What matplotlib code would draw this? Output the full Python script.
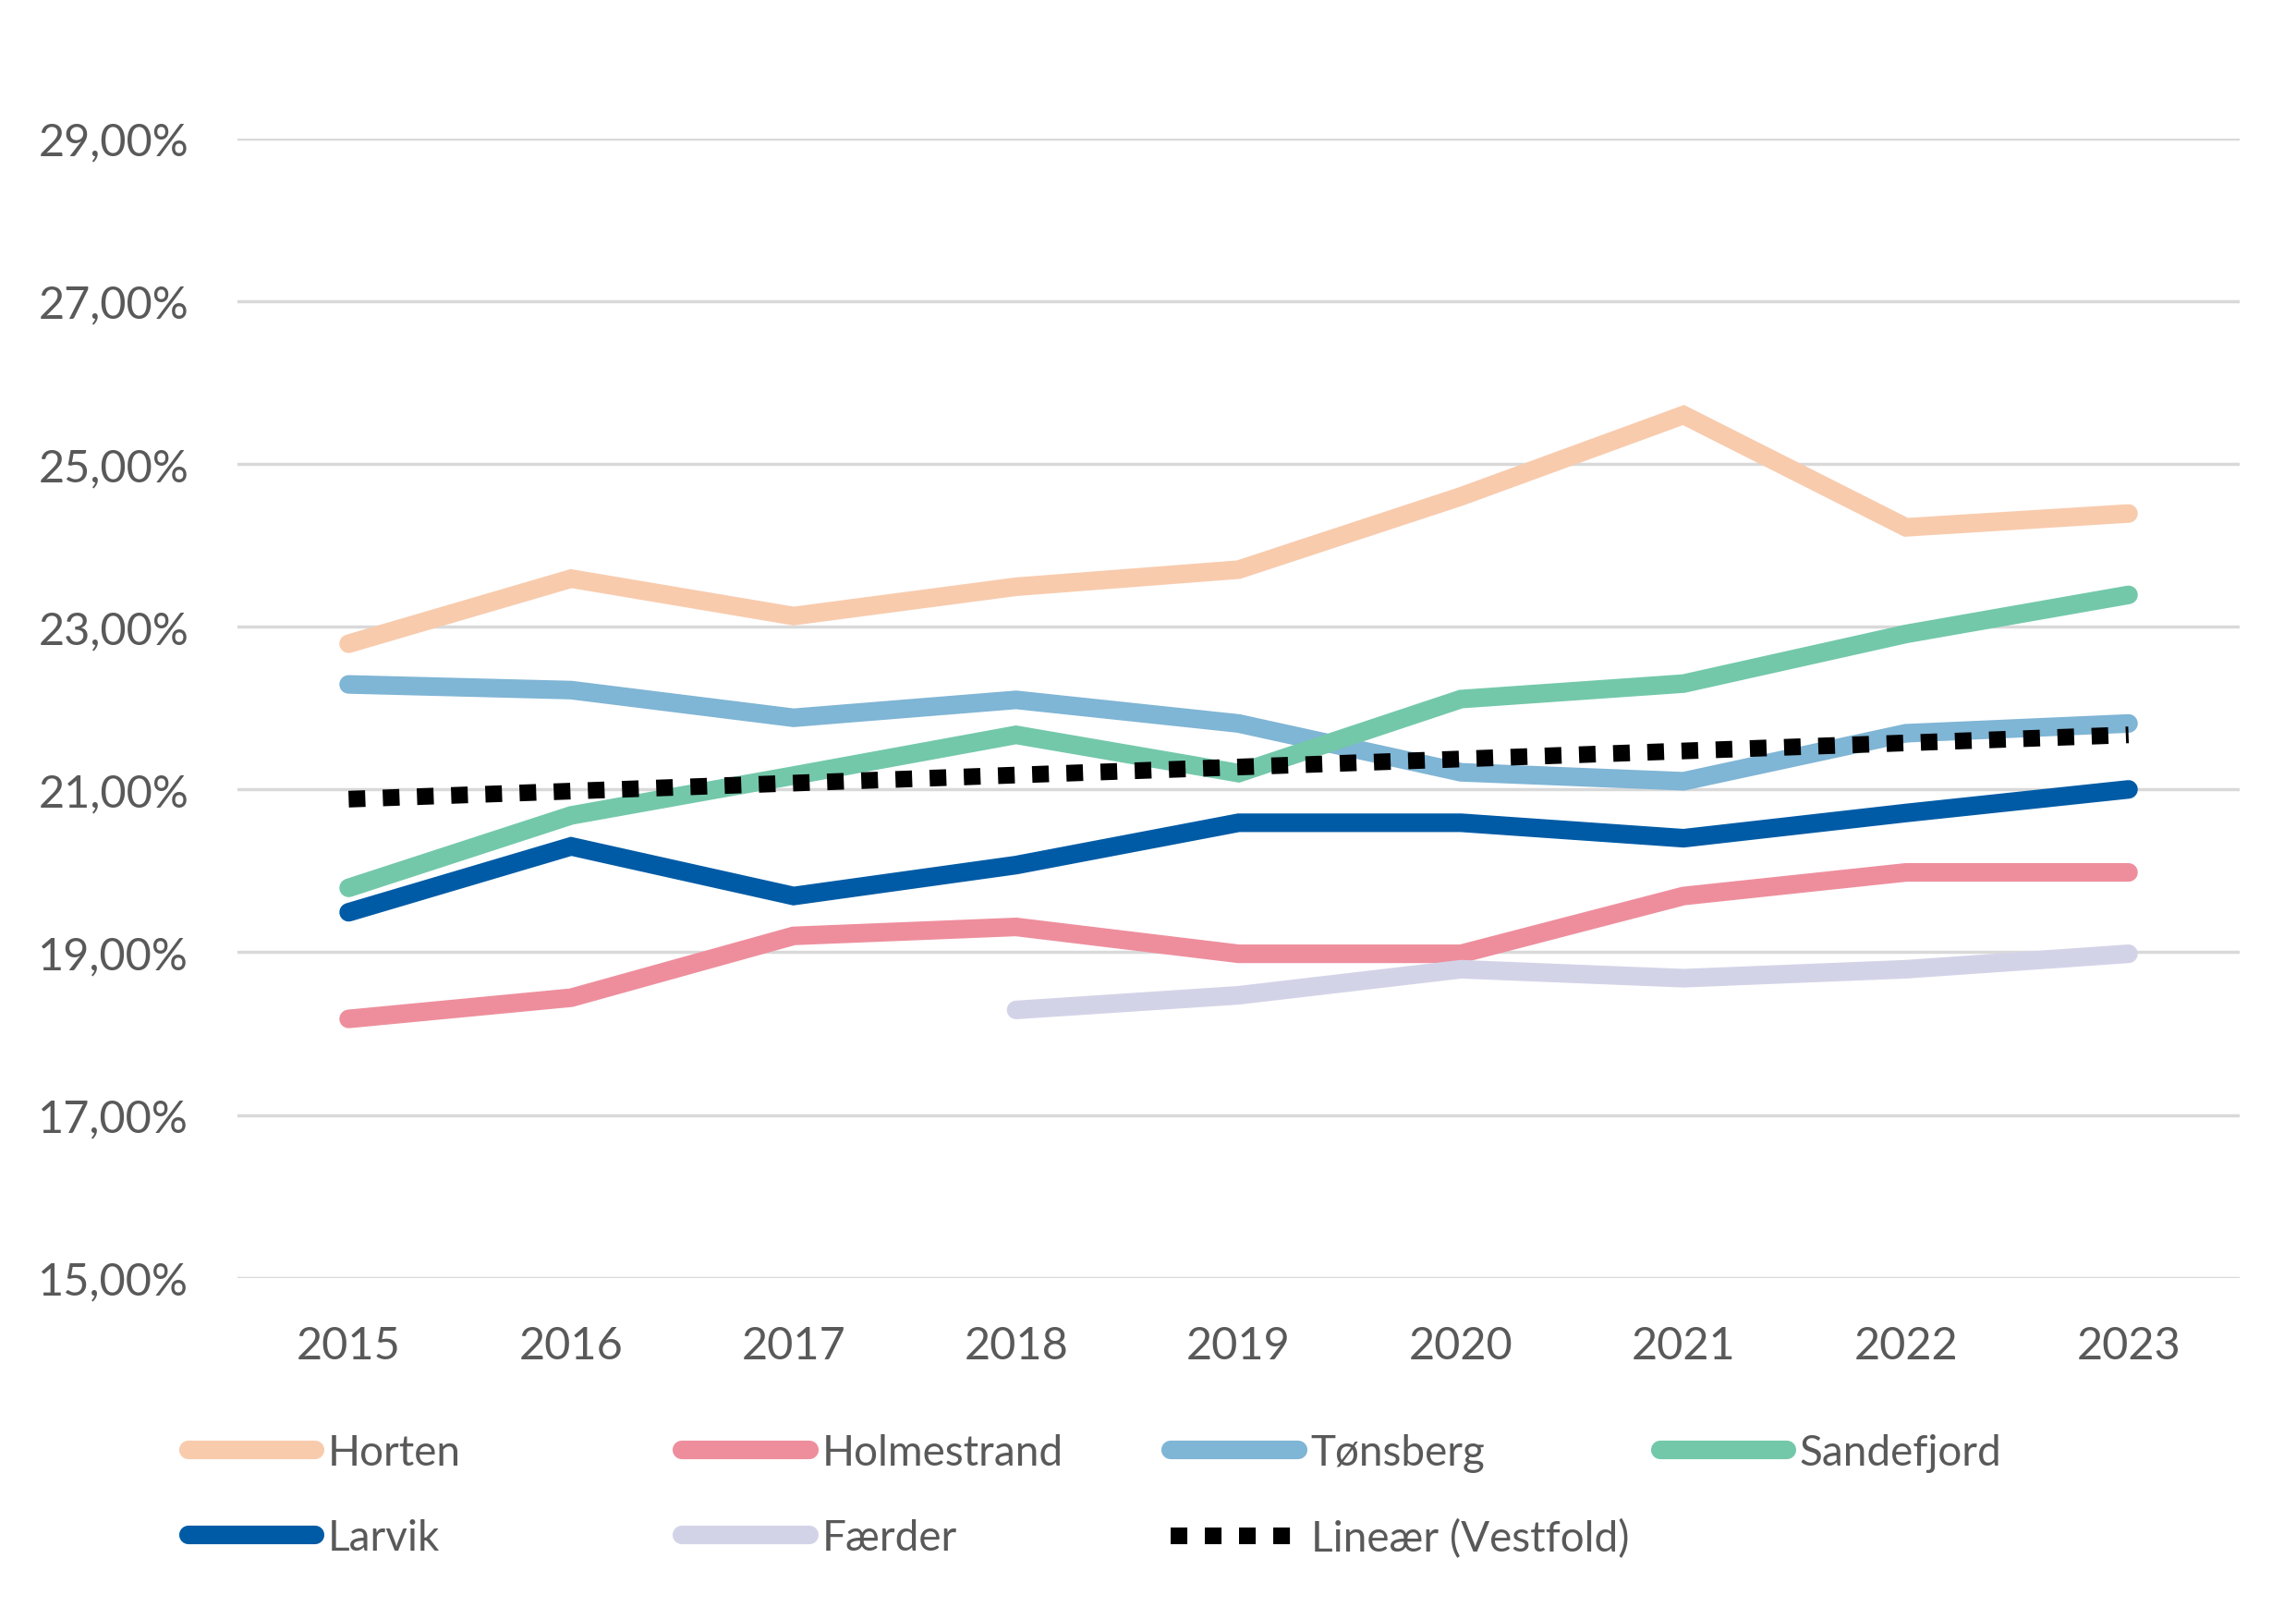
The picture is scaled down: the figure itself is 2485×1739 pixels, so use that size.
import matplotlib
matplotlib.use("Agg")
import matplotlib.pyplot as plt
from matplotlib.ticker import FuncFormatter

years = [2015, 2016, 2017, 2018, 2019, 2020, 2021, 2022, 2023]
horten = [22.79, 23.59, 23.13, 23.49, 23.70, 24.60, 25.60, 24.22, 24.39]
holmestrand = [18.18, 18.44, 19.20, 19.31, 18.98, 18.98, 19.69, 19.98, 19.98]
tonsberg = [22.29, 22.22, 21.88, 22.10, 21.81, 21.21, 21.10, 21.69, 21.81]
sandefjord = [19.79, 20.68, 21.17, 21.67, 21.20, 22.11, 22.30, 22.91, 23.39]
larvik = [19.49, 20.30, 19.69, 20.07, 20.59, 20.59, 20.40, 20.71, 21.00]
faerder_years = [2018, 2019, 2020, 2021, 2022, 2023]
faerder = [18.29, 18.47, 18.79, 18.68, 18.79, 18.98]
trend_years = [2015, 2023]
trend = [20.88, 21.67]
yticks = [15, 17, 19, 21, 23, 25, 27, 29]

plt.rcParams['font.family'] = ['Lato', 'DejaVu Sans']
fig = plt.figure(figsize=(24.85, 17.4), dpi=100)
ax = fig.add_axes([0.1034, 0.2048, 0.8721, 0.7086])

lw = 14.5
series = [
    ("Horten", years, horten, "#F8CBAD"),
    ("Holmestrand", years, holmestrand, "#EE8E9D"),
    ("Tønsberg", years, tonsberg, "#7FB5D5"),
    ("Sandefjord", years, sandefjord, "#73C8AA"),
    ("Larvik", years, larvik, "#005BA6"),
    ("Færder", faerder_years, faerder, "#D3D3E8"),
]
handles = {}
for name, xs, ys, c in series:
    h, = ax.plot(xs, ys, color=c, lw=lw, solid_capstyle='round', solid_joinstyle='miter', label=name, zorder=3)
    handles[name] = h
ht, = ax.plot(trend_years, trend, color='black', lw=13, linestyle=(0, (1, 1.05)), dash_capstyle='butt',
              label="Lineær (Vestfold)", zorder=4)
handles["Lineær (Vestfold)"] = ht

ax.set_xlim(2014.5, 2023.5)
ax.set_ylim(15, 29)
ax.set_yticks(yticks)
ax.set_xticks(years)
ax.yaxis.set_major_formatter(FuncFormatter(lambda v, p: f"{v:.2f}".replace('.', ',') + "%"))
ax.grid(axis='y', color='#D9D9D9', lw=2.5, zorder=0)
ax.set_axisbelow(True)
for s in ax.spines.values():
    s.set_visible(False)
ax.tick_params(axis='both', length=0, labelsize=35, labelcolor='#595959')
ax.tick_params(axis='y', pad=38)
ax.tick_params(axis='x', pad=37)

cols = [["Horten", "Larvik"], ["Holmestrand", "Færder"], ["Tønsberg", "Lineær (Vestfold)"], ["Sandefjord"]]
xpos = [0.082, 0.297, 0.510, 0.723]
for names, xp in zip(cols, xpos):
    leg = fig.legend([handles[n] for n in names], names, loc='upper left', bbox_to_anchor=(xp, 0.108),
                     frameon=False, fontsize=33, handlelength=3.0, handletextpad=0.3,
                     labelspacing=1.1, borderpad=0, borderaxespad=0)
    for t in leg.get_texts():
        t.set_color('#595959')

fig.savefig("out.png", dpi=100)
